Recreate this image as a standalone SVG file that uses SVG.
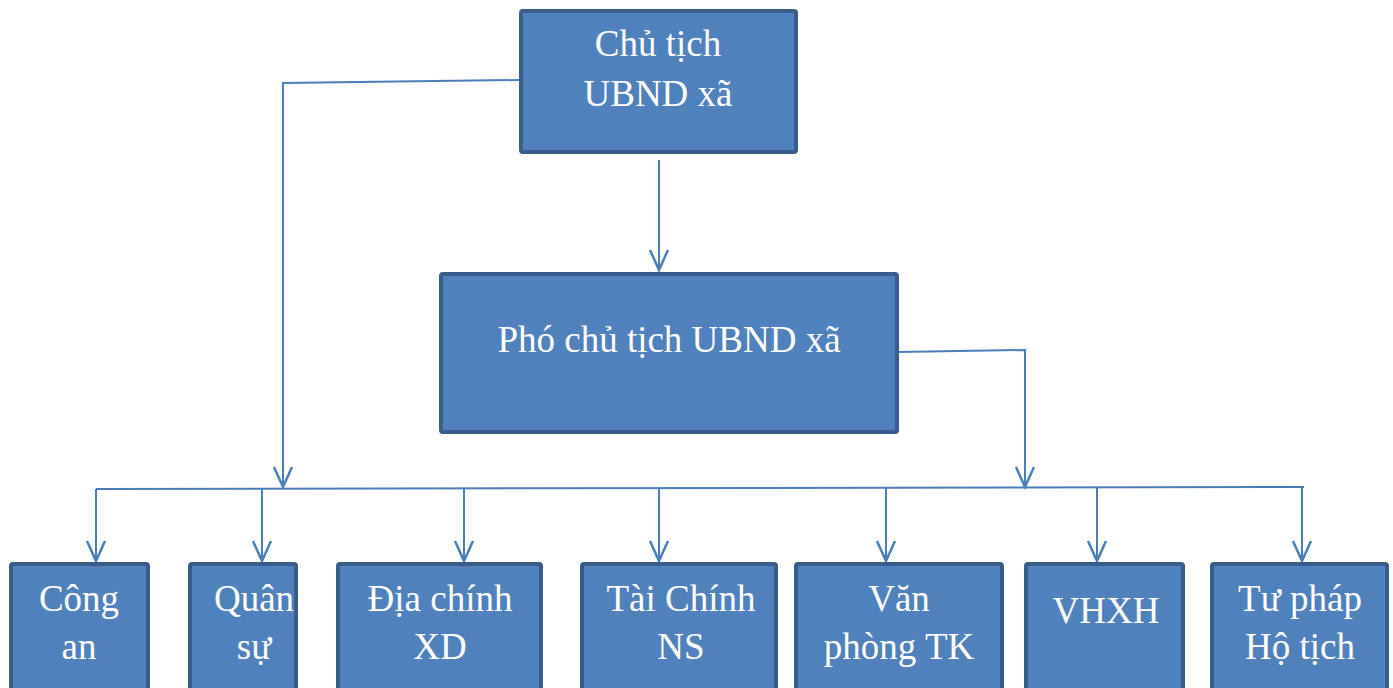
<svg xmlns="http://www.w3.org/2000/svg" width="1393" height="688" viewBox="0 0 1393 688">
<style>
.box{fill:#4F81BD;stroke:#385D8A;stroke-width:4;}
.t{font-family:"Liberation Serif","Times New Roman",serif;font-size:37px;fill:#FFFFFF;text-anchor:middle;}
.c{fill:none;stroke:#4A7EBB;stroke-width:2;}
</style>
<defs>
<marker id="arr" markerUnits="userSpaceOnUse" markerWidth="26" markerHeight="26" viewBox="-23 -13 26 26" refX="0" refY="0" orient="auto">
<path d="M-20,-9 L0,0 L-20,9" fill="none" stroke="#4A7EBB" stroke-width="2.5"/>
</marker>
</defs>
<rect width="1393" height="688" fill="#FFFFFF"/>
<g id="connectors">
<path class="c" d="M519,80 L283,83 L283,487" marker-end="url(#arr)"/>
<path class="c" d="M659,160 L659,270" marker-end="url(#arr)"/>
<path class="c" d="M898,352 L1025,350 L1025,487" marker-end="url(#arr)"/>
<path class="c" d="M96,489 L1304,487"/>
<path class="c" d="M96,489 L96,561" marker-end="url(#arr)"/>
<path class="c" d="M262,489 L262,561" marker-end="url(#arr)"/>
<path class="c" d="M464,489 L464,561" marker-end="url(#arr)"/>
<path class="c" d="M659,488 L659,561" marker-end="url(#arr)"/>
<path class="c" d="M886,488 L886,561" marker-end="url(#arr)"/>
<path class="c" d="M1097,488 L1097,561" marker-end="url(#arr)"/>
<path class="c" d="M1302,487 L1302,561" marker-end="url(#arr)"/>
</g>
<g id="chu-tich">
<rect class="box" x="521" y="11" width="275" height="141" rx="2"/>
<text class="t" x="658" y="56">Chủ tịch</text>
<text class="t" x="658" y="106">UBND xã</text>
</g>
<g id="pho-chu-tich">
<rect class="box" x="441" y="274" width="456" height="158" rx="2"/>
<text class="t" x="669" y="352">Phó chủ tịch UBND xã</text>
</g>
<g id="cong-an">
<rect class="box" x="11" y="564" width="137" height="140" rx="2"/>
<text class="t" x="79" y="611">Công</text>
<text class="t" x="79" y="659">an</text>
</g>
<g id="quan-su">
<rect class="box" x="190" y="564" width="106" height="140" rx="2"/>
<text class="t" x="254" y="611">Quân</text>
<text class="t" x="254" y="659">sự</text>
</g>
<g id="dia-chinh">
<rect class="box" x="338" y="564" width="203" height="140" rx="2"/>
<text class="t" x="440" y="611">Địa chính</text>
<text class="t" x="440" y="659">XD</text>
</g>
<g id="tai-chinh">
<rect class="box" x="582" y="564" width="194" height="140" rx="2"/>
<text class="t" x="681" y="611">Tài Chính</text>
<text class="t" x="681" y="659">NS</text>
</g>
<g id="van-phong">
<rect class="box" x="796" y="564" width="206" height="140" rx="2"/>
<text class="t" x="899" y="611">Văn</text>
<text class="t" x="899" y="659">phòng TK</text>
</g>
<g id="vhxh">
<rect class="box" x="1026" y="564" width="157" height="140" rx="2"/>
<text class="t" x="1106" y="623">VHXH</text>
</g>
<g id="tu-phap">
<rect class="box" x="1212" y="564" width="175" height="140" rx="2"/>
<text class="t" x="1300" y="611">Tư pháp</text>
<text class="t" x="1300" y="659">Hộ tịch</text>
</g>
</svg>
